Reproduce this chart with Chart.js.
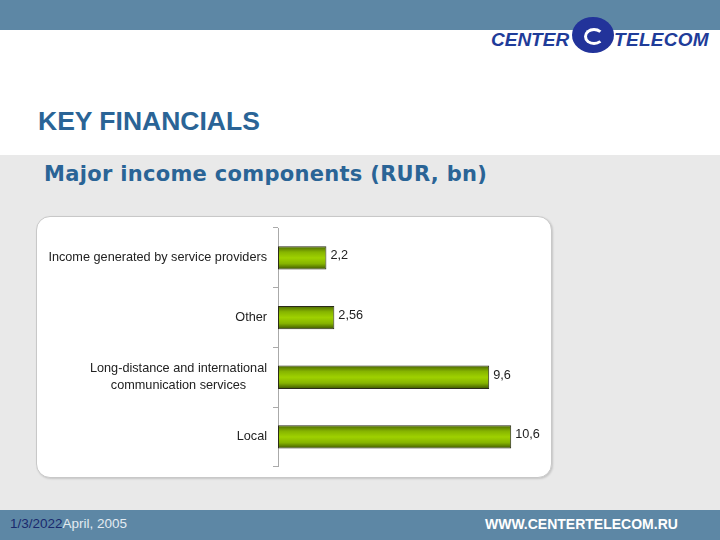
<!DOCTYPE html>
<html>
<head>
<meta charset="utf-8">
<script src="https://cdn.jsdelivr.net/npm/chart.js@4"></script>
<style>
  html, body { margin: 0; padding: 0; }
  body { width: 720px; height: 540px; position: relative; overflow: hidden; background: #fff; font-family: "Liberation Sans", Arial, sans-serif; }
  .topbar { position: absolute; left: 0; top: 0; width: 720px; height: 30px; background: #5d87a5; }
  .gray { position: absolute; left: 0; top: 155px; width: 720px; height: 355px; background: #e9e9e9; }
  .footer { position: absolute; left: 0; top: 510px; width: 720px; height: 30px; background: #5d87a5; }
  .logo { position: absolute; left: 491px; top: 29px; font-weight: bold; font-style: italic; font-size: 19px; color: #1f3c99; }
  .logo .t2 { position: absolute; left: 123px; top: 0; letter-spacing: 0.3px; }
  .globe { position: absolute; left: 572px; top: 17px; width: 42px; height: 36px; border-radius: 50%; background: #22339a; }
  .globe:after { content: ""; position: absolute; left: 12px; top: 11px; width: 14px; height: 11px; border-radius: 50%; border: 3px solid #fff; border-right-color: transparent; }
  h1 { position: absolute; left: 38px; top: 106px; margin: 0; font-size: 26.5px; font-weight: bold; color: #2a6496; }
  h2 { position: absolute; left: 44px; top: 162px; margin: 0; font-family: "DejaVu Sans", Verdana, sans-serif; font-size: 21px; font-weight: bold; color: #2a6496; letter-spacing: 0.3px; }
  .panel { position: absolute; left: 36px; top: 216px; width: 514px; height: 260px; background: #fff; border: 1px solid #c8c8c8; border-radius: 14px; box-shadow: 1px 1px 2px rgba(0,0,0,0.15); }
  .panel canvas { position: absolute; left: 0; top: 0; }
  .date { position: absolute; left: 10px; top: 516px; font-size: 13.5px; color: #1a2a6e; }
  .date span { color: #e4ebf2; }
  .url { position: absolute; left: 485px; top: 516px; font-size: 14px; font-weight: bold; color: #fff; }
</style>
</head>
<body>
<div class="topbar"></div>
<div class="gray"></div>
<div class="footer"></div>
<div class="logo"><span>CENTER</span><span class="t2">TELECOM</span></div>
<div class="globe"></div>
<h1>KEY FINANCIALS</h1>
<h2>Major income components (RUR, bn)</h2>
<div class="panel"><canvas id="bars" width="514" height="260"></canvas></div>
<div class="date">1/3/2022<span>April, 2005</span></div>
<div class="url">WWW.CENTERTELECOM.RU</div>

<script>
// data
const categories = [
  ['Income generated by service providers'],
  ['Other'],
  ['Long-distance and international', 'communication services'],
  ['Local']
];
const values = [2.2, 2.56, 9.6, 10.6];
const valueLabels = ['2,2', '2,56', '9,6', '10,6'];

const labelFont = '12.7px "Liberation Sans", Arial, sans-serif';

// green bar gradient, dark at top and bottom (own options object per bar)
const barShading = {
  id: 'barShading',
  beforeDatasetsDraw(chart) {
    const c = chart.ctx;
    chart.getDatasetMeta(0).data.forEach(bar => {
      const top = bar.y - bar.height / 2;
      const g = c.createLinearGradient(0, top, 0, top + bar.height);
      g.addColorStop(0, '#4a6600');
      g.addColorStop(0.25, '#86b400');
      g.addColorStop(0.5, '#9fd100');
      g.addColorStop(0.75, '#86b400');
      g.addColorStop(1, '#3c5400');
      bar.options = Object.assign({}, bar.options, { backgroundColor: g });
    });
  }
};

// category labels: block right-aligned at the axis, lines centred in the block
// plus value labels at the bar ends
const textPlugin = {
  id: 'texts',
  afterDraw(chart) {
    const c = chart.ctx;
    const y = chart.scales.y;
    c.save();
    c.font = labelFont;
    c.fillStyle = '#222';
    c.textBaseline = 'middle';
    c.textAlign = 'center';
    categories.forEach((lines, i) => {
      const cy = y.getPixelForValue(i);
      const w = Math.max(...lines.map(l => c.measureText(l).width));
      const right = y.right - 11;
      lines.forEach((l, k) => {
        c.fillText(l, right - w / 2, cy + (k - (lines.length - 1) / 2) * 17);
      });
    });
    c.textAlign = 'left';
    chart.getDatasetMeta(0).data.forEach((bar, i) => {
      c.fillText(valueLabels[i], bar.x + 4, bar.y - 2);
    });
    c.restore();
  }
};

new Chart(document.getElementById('bars'), {
  type: 'bar',
  data: {
    labels: categories.map(l => l.join(' ')),
    datasets: [{
      data: values,
      borderColor: '#2a2a1a',
      borderWidth: 1,
      borderSkipped: false,
      backgroundColor: '#99cc00',
      barPercentage: 0.39,
      categoryPercentage: 1
    }]
  },
  options: {
    indexAxis: 'y',
    responsive: false,
    animation: false,
    events: [],
    layout: { padding: { top: 11, bottom: 6, right: 20, left: 0 } },
    plugins: { legend: { display: false }, tooltip: { enabled: false } },
    scales: {
      x: { display: false, min: 0, max: 11.5 },
      y: {
        afterFit(scale) { scale.width = 241; },
        ticks: { color: 'rgba(0,0,0,0)', font: { size: 12 } },
        grid: { drawOnChartArea: false, tickLength: 5, color: '#aaa', offset: true },
        border: { color: '#aaa' }
      }
    }
  },
  plugins: [barShading, textPlugin]
});
</script>
</body>
</html>
